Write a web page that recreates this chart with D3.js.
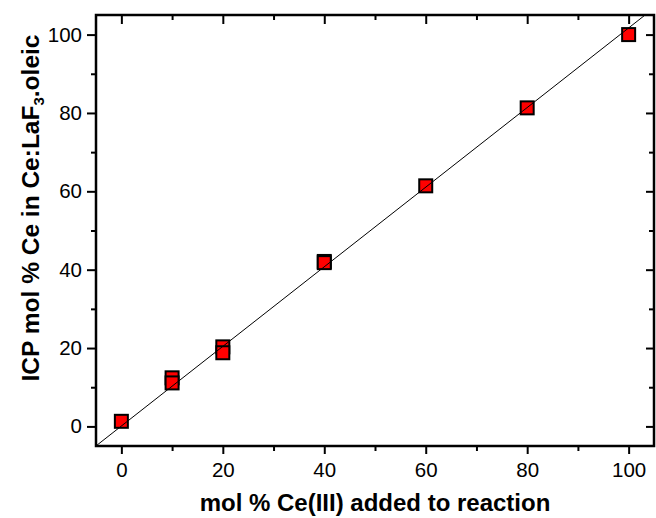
<!DOCTYPE html>
<html>
<head>
<meta charset="utf-8">
<script src="https://cdn.jsdelivr.net/npm/d3@7"></script>
<style>
  body { margin: 0; background: #fff; }
  text { font-family: Arial, "Liberation Sans", sans-serif; }
</style>
</head>
<body>
<script>
'use strict';

// data
const molAdded = [0, 10, 10, 20, 20, 40, 40, 60, 80, 100];
const icpMol = [1.3, 12.4, 11.1, 20.3, 18.8, 42.1, 41.8, 61.4, 81.3, 100.0];
const fitSlope = 1.016;
const fitIntercept = 0.1;
const majorTicks = [0, 20, 40, 60, 80, 100];
const minorTicks = [10, 30, 50, 70, 90];

const W = 656, H = 518;
const plot = {left: 96, right: 654, top: 15, bottom: 446};

const svg = d3.select('body').append('svg')
  .attr('width', W)
  .attr('height', H);

const x = d3.scaleLinear().domain([-5, 105]).range([plot.left, plot.right]);
const y = d3.scaleLinear().domain([-5, 105]).range([plot.bottom, plot.top]);

// axes: outward ticks on bottom/left, inward on top/right
function drawAxis(axisFn, scale, ticks, size, transform, pad) {
  const g = svg.append('g')
    .attr('transform', transform)
    .call(axisFn(scale).tickValues(ticks).tickSize(size).tickSizeOuter(0)
      .tickPadding(pad || 0).tickFormat(pad ? d3.format('d') : ''));
  g.select('.domain').remove();
  g.selectAll('line').attr('stroke', '#000').attr('stroke-width', 2);
  g.selectAll('text')
    .attr('fill', '#000')
    .style('font-size', '20.5px');
  return g;
}

drawAxis(d3.axisBottom, x, majorTicks, 8, `translate(0,${plot.bottom})`, 8);
drawAxis(d3.axisBottom, x, minorTicks, 5, `translate(0,${plot.bottom})`, 0);
drawAxis(d3.axisLeft, y, majorTicks, 9, `translate(${plot.left},0)`, 5);
drawAxis(d3.axisLeft, y, minorTicks, 5, `translate(${plot.left},0)`, 0);
drawAxis(d3.axisTop, x, majorTicks, -9, `translate(0,${plot.top})`, 0);
drawAxis(d3.axisTop, x, minorTicks, -5, `translate(0,${plot.top})`, 0);
drawAxis(d3.axisRight, y, majorTicks, -8, `translate(${plot.right},0)`, 0);
drawAxis(d3.axisRight, y, minorTicks, -5, `translate(${plot.right},0)`, 0);

// clip for plot area
svg.append('clipPath').attr('id', 'clip')
  .append('rect')
  .attr('x', plot.left).attr('y', plot.top)
  .attr('width', plot.right - plot.left)
  .attr('height', plot.bottom - plot.top);

// points
const pts = molAdded.map((v, i) => ({x: v, y: icpMol[i]}));
svg.append('g').selectAll('rect')
  .data(pts)
  .enter()
  .append('rect')
    .attr('x', d => x(d.x) - 6.5)
    .attr('y', d => y(d.y) - 6.5)
    .attr('width', 13)
    .attr('height', 13)
    .attr('fill', '#ff0000')
    .attr('stroke', '#000')
    .attr('stroke-width', 2);

// linear fit line
const xs = x.domain();
const line = d3.line().x(d => x(d)).y(d => y(fitSlope * d + fitIntercept));
svg.append('path')
  .datum(xs)
  .attr('clip-path', 'url(#clip)')
  .attr('d', line)
  .attr('fill', 'none')
  .attr('stroke', '#000')
  .attr('stroke-width', 1);

// frame
svg.append('rect')
  .attr('x', plot.left).attr('y', plot.top)
  .attr('width', plot.right - plot.left)
  .attr('height', plot.bottom - plot.top)
  .attr('fill', 'none')
  .attr('stroke', '#000')
  .attr('stroke-width', 2.5);

// axis titles
svg.append('text')
  .attr('x', (plot.left + plot.right) / 2)
  .attr('y', 511)
  .attr('text-anchor', 'middle')
  .style('font-size', '24px')
  .style('font-weight', 'bold')
  .text('mol % Ce(III) added to reaction');

const yTitle = svg.append('text')
  .attr('transform', 'translate(38.5,208)rotate(-90)')
  .attr('text-anchor', 'middle')
  .style('font-size', '24.5px')
  .style('font-weight', 'bold');
yTitle.append('tspan').text('ICP mol % Ce in Ce:LaF');
yTitle.append('tspan').attr('dy', 5).style('font-size', '15px').text('3');
yTitle.append('tspan').attr('dy', -5).text('.oleic');
</script>
</body>
</html>
